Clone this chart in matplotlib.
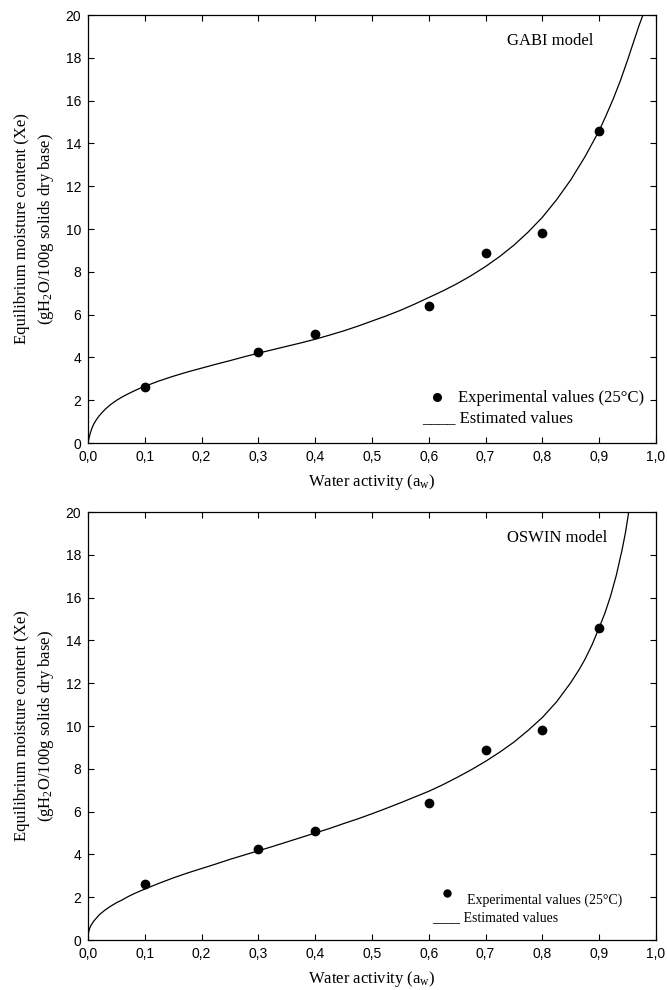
import matplotlib
matplotlib.use('Agg')
import matplotlib.pyplot as plt

plt.rcParams['font.family'] = 'Liberation Serif'
plt.rcParams['mathtext.fontset'] = 'custom'
plt.rcParams['mathtext.rm'] = 'Liberation Serif'
plt.rcParams['mathtext.it'] = 'Liberation Serif:italic'

# experimental points (same in both panels)
aw_exp = [0.1, 0.3, 0.4, 0.6, 0.7, 0.8, 0.9]
xe_exp = [2.63, 4.25, 5.09, 6.40, 8.87, 9.81, 14.58]

# GAB fitted curve
aw_gab = [0.0, 0.002, 0.004, 0.007, 0.01, 0.015, 0.02, 0.025, 0.03, 0.04, 0.05, 0.06, 0.07,
          0.08, 0.09, 0.1, 0.125, 0.15, 0.175, 0.2, 0.225, 0.25, 0.275, 0.3, 0.325, 0.35,
          0.375, 0.4, 0.425, 0.45, 0.475, 0.5, 0.525, 0.55, 0.575, 0.6, 0.625, 0.65, 0.675,
          0.7, 0.725, 0.75, 0.775, 0.8, 0.825, 0.85, 0.875, 0.9, 0.9125, 0.925, 0.9375,
          0.95, 0.96, 0.97, 0.977]
xe_gab = [0.0, 0.25, 0.45, 0.7, 0.88, 1.1, 1.28, 1.43, 1.57, 1.8, 1.99, 2.15, 2.29,
          2.42, 2.54, 2.65, 2.9, 3.12, 3.32, 3.5, 3.68, 3.85, 4.03, 4.2, 4.36, 4.52,
          4.68, 4.85, 5.04, 5.24, 5.46, 5.7, 5.94, 6.2, 6.49, 6.8, 7.11, 7.45, 7.83,
          8.25, 8.72, 9.25, 9.86, 10.55, 11.37, 12.3, 13.38, 14.6, 15.33, 16.1, 16.95,
          17.9, 18.7, 19.5, 20.0]

# Oswin fitted curve
aw_osw = [0.0, 0.001, 0.003, 0.005, 0.01, 0.015, 0.02, 0.03, 0.04, 0.05, 0.06, 0.07, 0.08,
          0.09, 0.1, 0.125, 0.15, 0.175, 0.2, 0.225, 0.25, 0.275, 0.3, 0.325, 0.35, 0.375,
          0.4, 0.425, 0.45, 0.475, 0.5, 0.525, 0.55, 0.575, 0.6, 0.625, 0.65, 0.675, 0.7,
          0.725, 0.75, 0.775, 0.8, 0.825, 0.85, 0.865, 0.875, 0.8875, 0.9, 0.91, 0.92, 0.93,
          0.94, 0.946, 0.952]
xe_osw = [0.0, 0.35, 0.55, 0.67, 0.88, 1.03, 1.18, 1.4, 1.58, 1.74, 1.87, 2.02, 2.15,
          2.27, 2.38, 2.65, 2.9, 3.13, 3.34, 3.55, 3.77, 3.97, 4.17, 4.37, 4.58, 4.79,
          5.0, 5.21, 5.44, 5.66, 5.9, 6.15, 6.41, 6.68, 6.95, 7.26, 7.6, 7.96, 8.35,
          8.78, 9.25, 9.8, 10.4, 11.13, 12.03, 12.65, 13.12, 13.8, 14.6, 15.27, 16.07, 17.03,
          18.2, 19.0, 20.0]

x_ticks = [0.0, 0.1, 0.2, 0.3, 0.4, 0.5, 0.6, 0.7, 0.8, 0.9, 1.0]
x_ticklabels = ['0,0', '0,1', '0,2', '0,3', '0,4', '0,5', '0,6', '0,7', '0,8', '0,9', '1,0']
y_ticks = [0, 2, 4, 6, 8, 10, 12, 14, 16, 18, 20]

fig = plt.figure(figsize=(6.67, 9.9), dpi=100)
ax1 = fig.add_axes([0.1319, 0.5525, 0.8516, 0.4323])
ax2 = fig.add_axes([0.1319, 0.0505, 0.8516, 0.4323])


def style_axes(ax):
    ax.set_xlim(0, 1)
    ax.set_ylim(0, 20)
    ax.set_xticks(x_ticks)
    ax.set_xticklabels(x_ticklabels, family='Liberation Sans', fontsize=10)
    ax.set_yticks(y_ticks)
    ax.set_yticklabels([str(v) for v in y_ticks], family='Liberation Sans', fontsize=10)
    ax.tick_params(direction='in', top=True, right=True, length=4, width=0.8, pad=5)
    for s in ax.spines.values():
        s.set_linewidth(0.9)
    ax.set_xlabel('Water activity (a$_{\\rm w}$)', fontsize=12, labelpad=6)


for ax, aw_c, xe_c, title in [(ax1, aw_gab, xe_gab, 'GABI model'),
                              (ax2, aw_osw, xe_osw, 'OSWIN model')]:
    ax.plot(aw_c, xe_c, color='black', linewidth=0.9)
    ax.plot(aw_exp, xe_exp, 'o', color='black', markersize=6, clip_on=False)
    style_axes(ax)
    ax.text(0.738, 18.8, title, fontsize=12, va='center', ha='left')

# legends drawn as free text like in the original
ax1.plot([0.614], [2.15], 'o', color='black', markersize=5.5)
ax1.text(0.651, 2.12, 'Experimental values (25°C)', fontsize=12, va='center')
ax1.text(0.588, 1.15, '____ Estimated values', fontsize=12, va='center')

ax2.plot([0.632], [2.2], 'o', color='black', markersize=5)
ax2.text(0.667, 1.87, 'Experimental values (25°C)', fontsize=10, va='center')
ax2.text(0.605, 1.05, '____ Estimated values', fontsize=10, va='center')

# two-line y labels
for ax in (ax1, ax2):
    pos = ax.get_position()
    yc = pos.y0 + pos.height / 2
    fig.text(22 / 667, yc, 'Equilibrium moisture content (Xe)', rotation=90,
             fontsize=12, ha='center', va='center')
    fig.text(46 / 667, yc, '(gH$_2$O/100g solids dry base)', rotation=90,
             fontsize=12, ha='center', va='center')

fig.savefig('out.png', dpi=100)
